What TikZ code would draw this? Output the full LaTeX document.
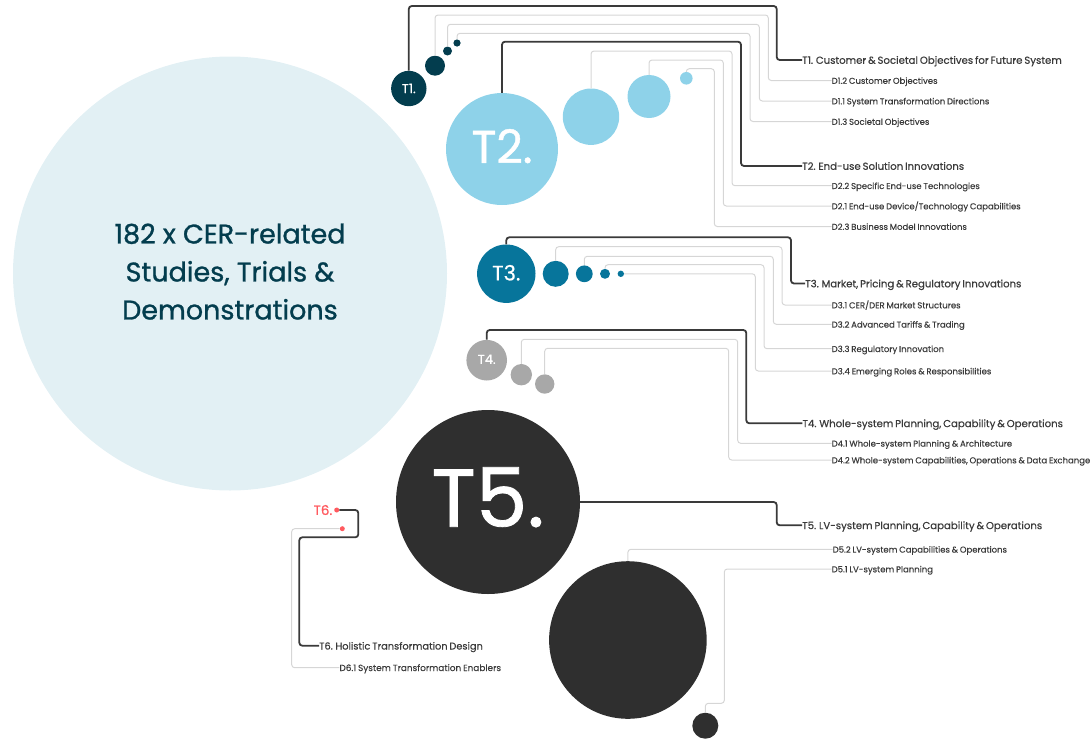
\documentclass[tikz,border=0pt]{standalone}
\usepackage{fontspec}
\setmainfont{Poppins}
\newfontfamily\bigf[FakeBold=1.0]{Poppins}
\newfontfamily\tf[FakeBold=0.5,WordSpace=0.7]{Poppins}
\newfontfamily\df[FakeBold=0.25,WordSpace=0.8]{Poppins}
\definecolor{bgc}{HTML}{E2F0F4}
\definecolor{cone}{HTML}{033D4E}
\definecolor{ctwo}{HTML}{8ED2E9}
\definecolor{cthree}{HTML}{07759B}
\definecolor{cfour}{HTML}{A8A8A8}
\definecolor{cfive}{HTML}{2F2F2F}
\definecolor{csix}{HTML}{FF5A5F}
\definecolor{lbl}{HTML}{3A3A3A}
\tikzset{
  disc/.style={circle,draw=none,inner sep=0pt,minimum size=#1,text=white},
  tlabel/.style={anchor=west,inner sep=0pt,text=lbl,font=\tf\fontsize{10.15}{12}\selectfont,text height=7.6pt,text depth=0pt},
  dlabel/.style={anchor=west,inner sep=0pt,text=lbl,font=\df\fontsize{8.5}{10}\selectfont,text height=6.6pt,text depth=0pt},
  heavy/.style={draw=lbl,line width=1.8pt,rounded corners=3pt},
  thin line/.style={draw=black!16,line width=1pt,rounded corners=3pt}
}
\begin{document}
\begin{tikzpicture}[x=1pt,y=-1pt]
\useasboundingbox (0,0) rectangle (1091,739);
% main
\node[disc=434pt,fill=bgc,text=cone,align=center,font=\bigf\fontsize{27}{38}\selectfont,text depth=4pt] (main) at (230,273.5) {182 x CER-related\\Studies, Trials \&\\Demonstrations};
% discs
\node[disc=35.4pt,fill=cone,font=\tf\fontsize{13}{15}\selectfont] (t1) at (408.8,88.5) {T1.};
\node[disc=20pt,fill=cone] (d1a) at (435,65.7) {};
\node[disc=9pt,fill=cone] (d1b) at (447.5,51) {};
\node[disc=7.2pt,fill=cone] (d1c) at (457,43) {};
\node[disc=112pt,fill=ctwo,font=\bigf\fontsize{46}{50}\selectfont,text depth=6pt] (t2) at (502,149) {T2.};
\node[disc=56.4pt,fill=ctwo] (d2a) at (591,116.7) {};
\node[disc=43pt,fill=ctwo] (d2b) at (649,96.5) {};
\node[disc=12.6pt,fill=ctwo] (d2c) at (686.3,78.3) {};
\node[disc=58.4pt,fill=cthree,font=\tf\fontsize{21}{25}\selectfont,text depth=2pt] (t3) at (506.3,273.7) {T3.};
\node[disc=26pt,fill=cthree] (d3a) at (555.7,273.8) {};
\node[disc=16.8pt,fill=cthree] (d3b) at (584.3,273.8) {};
\node[disc=10pt,fill=cthree] (d3c) at (605,273.8) {};
\node[disc=6.4pt,fill=cthree] (d3d) at (620.8,273.8) {};
\node[disc=40.6pt,fill=cfour,font=\tf\fontsize{13}{15}\selectfont,text depth=2pt] (t4) at (486.7,360.2) {T4.};
\node[disc=21.4pt,fill=cfour] (d4a) at (521.3,374.7) {};
\node[disc=19.4pt,fill=cfour] (d4b) at (544.7,384) {};
\node[disc=184pt,fill=cfive,font=\bigf\fontsize{82}{86}\selectfont,text depth=10pt] (t5) at (488,502) {T5.};
\node[disc=157.6pt,fill=cfive] (d5a) at (627.9,640) {};
\node[disc=26pt,fill=cfive] (d5b) at (705.3,725.7) {};
\node[disc=5pt,fill=csix] (d6top) at (336.7,510) {};
\node[disc=5pt,fill=csix] (d6a) at (342.3,528.7) {};
\node[anchor=east,inner sep=0pt,text=csix,font=\tf\fontsize{13.5}{15}\selectfont] (t6txt) at (332.5,510) {T6.};
% labels
\node[tlabel] (lt1) at (802,60) {T1. Customer \& Societal Objectives for Future System};
\node[dlabel] (l12) at (831.5,80.5) {D1.2 Customer Objectives};
\node[dlabel] (l11) at (831.5,101) {D1.1 System Transformation Directions};
\node[dlabel] (l13) at (831.5,121.5) {D1.3 Societal Objectives};
\node[tlabel] (lt2) at (802,166) {T2. End-use Solution Innovations};
\node[dlabel] (l22) at (831.5,185.7) {D2.2 Specific End-use Technologies};
\node[dlabel] (l21) at (831.5,206) {D2.1 End-use Device/Technology Capabilities};
\node[dlabel] (l23) at (831.5,226.5) {D2.3 Business Model Innovations};
\node[tlabel] (lt3) at (805,283.5) {T3. Market, Pricing \& Regulatory Innovations};
\node[dlabel] (l31) at (831.5,305) {D3.1 CER/DER Market Structures};
\node[dlabel] (l32) at (831.5,324.3) {D3.2 Advanced Tariffs \& Trading};
\node[dlabel] (l33) at (831.5,348.7) {D3.3 Regulatory Innovation};
\node[dlabel] (l34) at (831.5,371) {D3.4 Emerging Roles \& Responsibilities};
\node[tlabel] (lt4) at (802.3,423.3) {T4. Whole-system Planning, Capability \& Operations};
\node[dlabel] (l41) at (831.5,443.3) {D4.1 Whole-system Planning \& Architecture};
\node[dlabel] (l42) at (831.5,460) {D4.2 Whole-system Capabilities, Operations \& Data Exchange};
\node[tlabel] (lt5) at (802,525.3) {T5. LV-system Planning, Capability \& Operations};
\node[dlabel] (l52) at (832.5,549.3) {D5.2 LV-system Capabilities \& Operations};
\node[dlabel] (l51) at (831.5,569) {D5.1 LV-system Planning};
\node[tlabel,font=\tf\fontsize{9.8}{12}\selectfont] (lt6) at (319,645.7) {T6. Holistic Transformation Design};
\node[dlabel,font=\df\fontsize{8.9}{10}\selectfont] (l61) at (339.3,667.7) {D6.1 System Transformation Enablers};
% connectors
\draw[heavy] (t1.north) |- (776.7,6) |- (lt1.west);
\draw[thin line] (d1a.north) |- (768.3,15) |- (l12.west);
\draw[thin line] (d1b.north) |- (759.3,24.3) |- (l11.west);
\draw[thin line] (d1c.north) |- (750,33.3) |- (l13.west);
\draw[heavy] (t2.north) |- (741,41.7) |- (lt2.west);
\draw[thin line] (d2a.north) |- (732,51) |- (l22.west);
\draw[thin line] (d2b.north) |- (723.3,60) |- (l21.west);
\draw[thin line] (d2c.north) |- (714.3,68.7) |- (l23.west);
\draw[heavy] (t3.north) |- (791,237.3) |- (lt3.west);
\draw[thin line] (d3a.north) |- (782,246.7) |- (l31.west);
\draw[thin line] (d3b.north) |- (773.3,256.3) |- (l32.west);
\draw[thin line] (d3c.north) |- (764,264.7) |- (l33.west);
\draw[thin line] (d3d.east) -- (755.3,273.8) |- (l34.west);
\draw[heavy] (t4.north) |- (746.3,330) |- (lt4.west);
\draw[thin line] (d4a.north) |- (737.7,339.3) |- (l41.west);
\draw[thin line] (d4b.north) |- (728.7,348.3) |- (l42.west);
\draw[heavy] (t5.east) -- (776.7,502) |- (lt5.west);
\draw[thin line] (d5a.north) |- (l52.west);
\draw[thin line] (d5b.north) |- (724.3,703.3) |- (l51.west);
\draw[heavy] (d6top.east) -- (358.3,510) -- (358.3,537.3) -- (299.3,537.3) |- (lt6.west);
\draw[thin line] (d6a.west) -- (291.7,528.7) |- (l61.west);
\end{tikzpicture}
\end{document}
